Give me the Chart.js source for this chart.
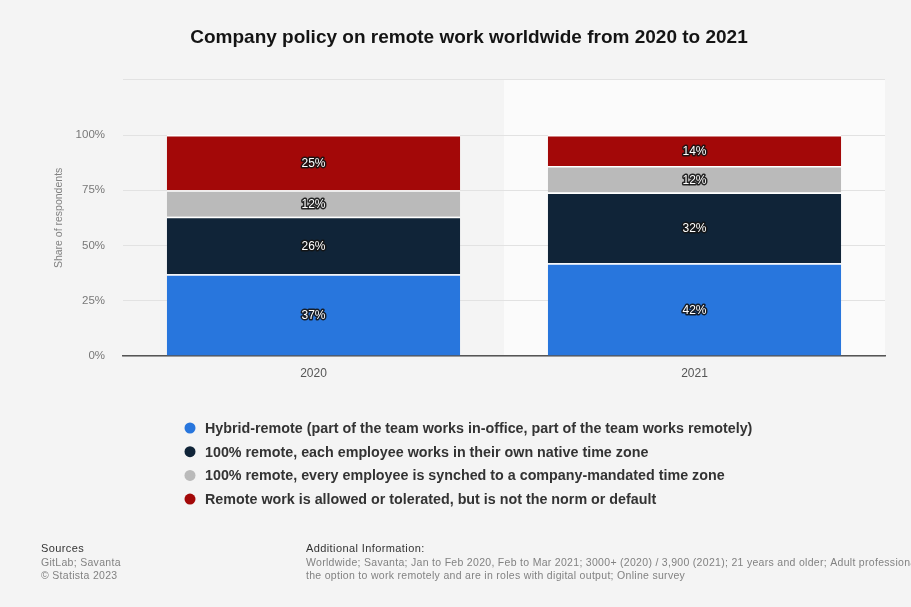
<!DOCTYPE html>
<html>
<head>
<meta charset="utf-8">
<script src="https://cdn.jsdelivr.net/npm/chart.js@4.4.0/dist/chart.umd.min.js"></script>
<style>
  html, body { margin: 0; padding: 0; background: #f4f4f4; }
  #wrap { position: relative; width: 911px; height: 607px; }
</style>
</head>
<body>
<div id="wrap"><canvas id="graph" width="911" height="607"></canvas></div>
<script>
// survey years and the four policy answers
const years = ['2020', '2021']
const seriesNames = [
    'Hybrid-remote (part of the team works in-office, part of the team works remotely)',
    '100% remote, each employee works in their own native time zone',
    '100% remote, every employee is synched to a company-mandated time zone',
    'Remote work is allowed or tolerated, but is not the norm or default'
]
const hybrid =        [37, 42]
const nativeZone =    [26, 32]
const mandatedZone =  [12, 12]
const allowedOnly =   [25, 14]
const yTickValues =   [0, 25, 50, 75, 100]

const blue =      'rgb(40, 118, 221)'
const navy =      'rgb(16, 36, 56)'
const grey =      'rgb(186, 186, 186)'
const red =       'rgb(163, 8, 8)'
const textDark =  'rgb(51, 51, 51)'
const textGrey =  'rgb(130, 130, 130)'
const sans =      '"Liberation Sans", Arial, sans-serif'

const sourceLines = ['GitLab; Savanta', '\u00a9 Statista 2023']
const infoLines = [
    'Worldwide; Savanta; Jan to Feb 2020, Feb to Mar 2021; 3000+ (2020) / 3,900 (2021); 21 years and older; Adult professionals who have',
    'the option to work remotely and are in roles with digital output; Online survey'
]

function makeSet(i, values, color) {
    return {
        label: seriesNames[i],
        data: values,
        backgroundColor: color,
        borderColor: '#ffffff',
        borderWidth: {top: 1.5, bottom: 0, left: 0, right: 0},
        borderSkipped: false,
        barPercentage: 0.77,
        categoryPercentage: 1,
    }
}

//lighter column behind the 2021 bar
const columnShade = {
    id: 'columnShade',
    beforeDraw(chart) {
        const {ctx, chartArea} = chart
        const x = chart.scales.x
        const half = (chartArea.right - chartArea.left) / years.length / 2
        const cx = x.getPixelForValue(1)
        ctx.save()
        ctx.fillStyle = '#fbfbfb'
        ctx.fillRect(cx - half, chartArea.top, half * 2, chartArea.bottom - chartArea.top)
        ctx.restore()
    }
}

//percent labels in the middle of each segment
const segmentLabels = {
    id: 'segmentLabels',
    afterDatasetsDraw(chart) {
        const ctx = chart.ctx
        ctx.save()
        ctx.font = '12px ' + sans
        ctx.textAlign = 'center'
        ctx.textBaseline = 'middle'
        ctx.lineJoin = 'round'
        chart.data.datasets.forEach((ds, i) => {
            chart.getDatasetMeta(i).data.forEach((bar, j) => {
                const p = bar.getCenterPoint()
                const txt = ds.data[j] + '%'
                ctx.strokeStyle = 'rgba(20, 20, 20, 0.9)'
                ctx.lineWidth = 3
                ctx.strokeText(txt, p.x, p.y + 1)
                ctx.fillStyle = '#ffffff'
                ctx.fillText(txt, p.x, p.y + 1)
            })
        })
        ctx.restore()
    }
}

//legend list and source notes under the chart
const notes = {
    id: 'notes',
    afterDraw(chart) {
        const ctx = chart.ctx
        ctx.save()
        ctx.textBaseline = 'middle'
        ctx.textAlign = 'left'
        ctx.font = 'bold 14.3px ' + sans
        chart.data.datasets.forEach((ds, i) => {
            const y = 428 + i * 23.7
            ctx.fillStyle = ds.backgroundColor
            ctx.beginPath()
            ctx.arc(190, y, 5.5, 0, Math.PI * 2)
            ctx.fill()
            ctx.fillStyle = textDark
            ctx.fillText(ds.label, 205, y + 1)
        })

        ctx.font = '11px ' + sans
        ctx.letterSpacing = '0.4px'
        ctx.fillStyle = textDark
        ctx.fillText('Sources', 41, 549)
        ctx.fillText('Additional Information:', 306, 549)
        ctx.font = '10.5px ' + sans
        ctx.letterSpacing = '0.3px'
        ctx.fillStyle = textGrey
        sourceLines.forEach((t, i) => ctx.fillText(t, 41, 563 + i * 13))
        infoLines.forEach((t, i) => ctx.fillText(t, 306, 563 + i * 13))
        ctx.restore()
    }
}

const ctx = document.getElementById('graph')
const myChart = new Chart(ctx, {
    type: 'bar',
    data: {
        labels: years,
        datasets: [
            makeSet(0, hybrid, blue),
            makeSet(1, nativeZone, navy),
            makeSet(2, mandatedZone, grey),
            makeSet(3, allowedOnly, red),
        ]
    },
    options: {
        responsive: false,
        animation: false,
        layout: {
            padding: {left: 53, right: 26, top: 0, bottom: 221}
        },
        plugins: {
            legend: {display: false},
            tooltip: {enabled: false},
            title: {
                display: true,
                text: 'Company policy on remote work worldwide from 2020 to 2021',
                color: 'rgb(20, 20, 20)',
                font: {size: 19, weight: 'bold', family: sans, lineHeight: 1.2},
                padding: {top: 26, bottom: 31}
            }
        },
        scales: {
            x: {
                stacked: true,
                grid: {display: false, drawTicks: false},
                border: {display: true, color: 'rgb(85, 85, 85)', width: 1.5},
                ticks: {
                    color: 'rgb(85, 85, 85)',
                    padding: 10,
                    font: {size: 12, family: sans}
                },
                afterFit(s) { s.height = 30 }
            },
            y: {
                stacked: true,
                min: 0,
                max: 125,
                afterBuildTicks(s) {
                    s.ticks = yTickValues.concat([125]).map(v => ({value: v}))
                },
                ticks: {
                    color: 'rgb(120, 120, 120)',
                    padding: 18,
                    font: {size: 11.5, family: sans},
                    callback: v => (yTickValues.includes(v) ? v + '%' : '')
                },
                grid: {color: 'rgb(226, 226, 226)', drawTicks: false, lineWidth: 1},
                border: {display: false},
                title: {
                    display: true,
                    text: 'Share of respondents',
                    color: textGrey,
                    font: {size: 10.5, family: sans},
                    padding: {top: 0, bottom: 0}
                },
                afterFit(s) { s.width = 70 }
            }
        }
    },
    plugins: [columnShade, segmentLabels, notes]
})
</script>
</body>
</html>
